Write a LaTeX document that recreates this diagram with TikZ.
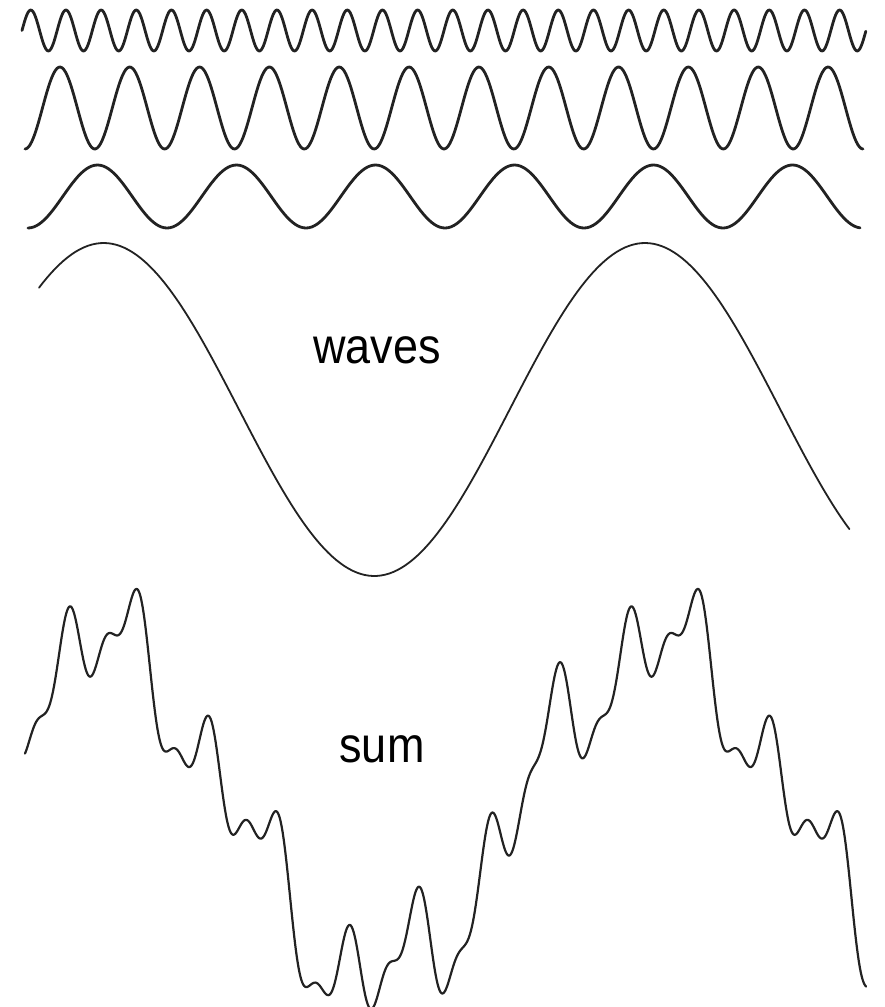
\documentclass[tikz,border=0pt]{standalone}
\usepackage{fontspec}
\setmainfont{Liberation Sans}
\usepackage{tikz}
\usetikzlibrary{positioning}
\definecolor{waveInk}{HTML}{222222}

\begin{document}
\begin{tikzpicture}[x=1pt,y=-1pt,
    thinwave/.style={draw=waveInk,line width=2.8pt,line cap=round,line join=round},
    basewave/.style={draw=waveInk,line width=1.8pt,line cap=round,line join=round},
    caption/.style={font=\fontsize{50}{60}\selectfont,anchor=base,xscale=0.9,inner sep=0pt}]
  \useasboundingbox (0,0) rectangle (884,1007);
  % the four waves, 1.5 periods of the slowest one across the width
  \draw[thinwave] plot[domain=0:1.5,samples=700,variable=\t]
    ({22+844*\t/1.5},{30.5-20.5*sin(5760*\t)});
  \draw[thinwave] plot[domain=0:1.5,samples=500,variable=\t]
    ({25+838*\t/1.5},{108+41*cos(2880*\t)});
  \draw[thinwave] plot[domain=0:1.5,samples=300,variable=\t]
    ({28+834*\t/1.5},{196.5+31.5*cos(1440*\t)});
  \draw[basewave] plot[domain=0:1.5,samples=200,variable=\t]
    ({39+812*\t/1.5},{409.5-166.5*cos(360*\t-43)});
  \node[caption] (wavesLabel) at (377,363) {waves};
  % their sum
  \draw[basewave,line width=2.2pt] plot[domain=0:1.5,samples=900,variable=\t]
    ({25+842*\t/1.5},{811.5-(166.5*cos(360*\t-45.5)+28*cos(1440*\t-230.9)-41*cos(2880*\t-26)+20.5*sin(5760*\t-12))});
  \node[caption] (sumLabel) at (382,762) {sum};
\end{tikzpicture}
\end{document}
